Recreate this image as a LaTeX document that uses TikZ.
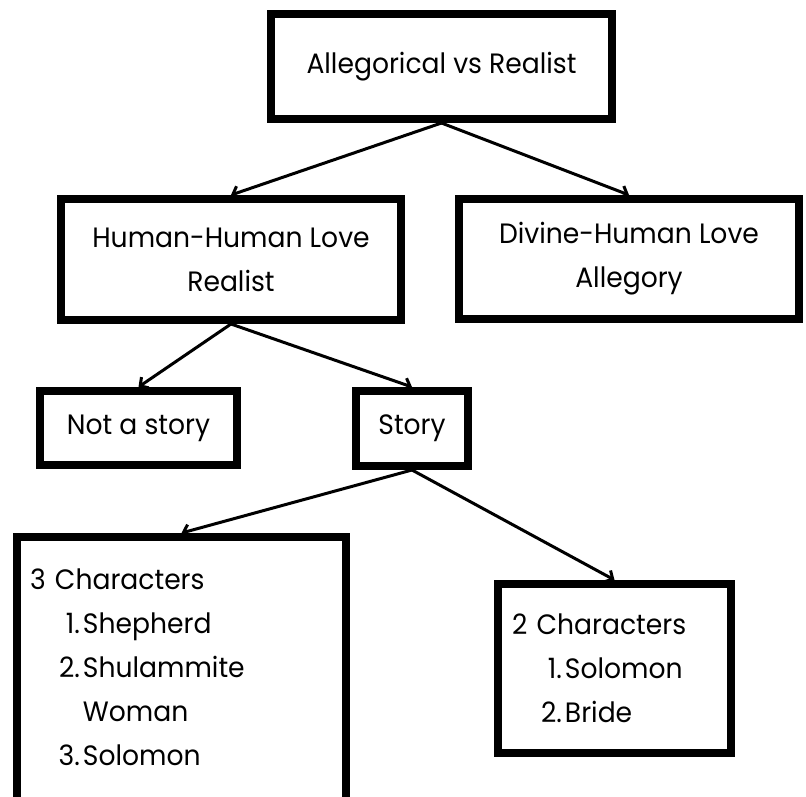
\documentclass[tikz,border=0pt]{standalone}
\usepackage{fontspec}
\setmainfont{Poppins}[FakeStretch=0.95]
\usetikzlibrary{arrows.meta}

\newcommand{\itm}[2]{\makebox[50pt][r]{#1}\hspace{3pt}#2}

\begin{document}
\begin{tikzpicture}[x=1pt, y=-1pt,
        main/.style={rectangle, draw, line width=8pt, inner sep=0pt, align=center,
            font=\fontsize{28pt}{44pt}\selectfont},
        list/.style={main, align=left},
        link/.style={line width=3pt, -{Straight Barb[length=6pt, width=13pt]}}]
        \clip (0,0) rectangle (806,797);
        \node[main, minimum width=341, minimum height=105] (top) at (441.5,66.5) {Allegorical vs Realist};
        \node[main, minimum width=340, minimum height=121] (human) at (231,259.5) {Human-Human Love\\Realist};
        \node[main, minimum width=340, minimum height=120] (divine) at (629,259) {Divine-Human Love\\Allegory};
        \node[main, minimum width=197, minimum height=74] (nostory) at (138.5,428) {Not a story};
        \node[main, minimum width=112, minimum height=75] (story) at (412,428.5) {Story};
        \node[list, minimum width=329, minimum height=304, text width=303, inner xsep=13pt] (three) at (181.5,689)
            {3 Characters\\ \itm{1.}{Shepherd}\\ \itm{2.}{Shulammite}\\ \itm{}{Woman}\\ \itm{3.}{Solomon}\\ ~};
        \node[list, minimum width=233, minimum height=169, text width=205, inner xsep=14pt] (two) at (614.5,668.5)
            {2 Characters\\ \itm{1.}{Solomon}\\ \itm{2.}{Bride}};
        \draw[link] (top.south) -- (human.north);
        \draw[link] (top.south) -- (divine.north);
        \draw[link] (human.south) -- (nostory.north);
        \draw[link] (human.south) -- (story.north);
        \draw[link] (story.south) -- (three.north);
        \draw[link] (story.south) -- (two.north);
    \end{tikzpicture}
\end{document}
